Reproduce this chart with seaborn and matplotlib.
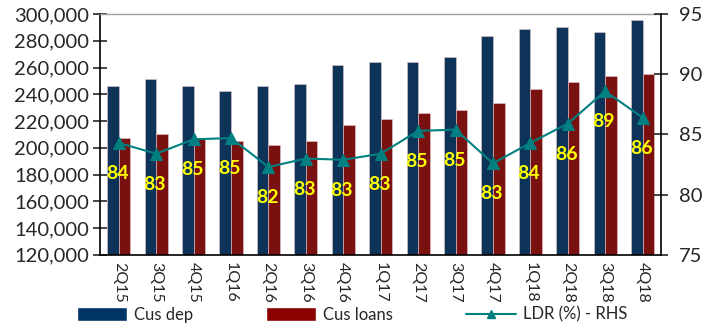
import matplotlib
matplotlib.use("Agg")
import matplotlib.pyplot as plt
import seaborn as sns
import pandas as pd
import numpy as np
from matplotlib.patches import Patch
from matplotlib.lines import Line2D
from matplotlib.ticker import FuncFormatter, FixedLocator

# quarterly data
quarters = ['2Q15', '3Q15', '4Q15', '1Q16', '2Q16', '3Q16', '4Q16', '1Q17',
            '2Q17', '3Q17', '4Q17', '1Q18', '2Q18', '3Q18', '4Q18']
cus_dep = [246200, 251200, 246200, 242500, 246200, 247500, 261700, 264200,
           264200, 267900, 283600, 288600, 290000, 286300, 295300]
cus_loans = [207600, 210400, 207600, 205100, 202400, 205100, 216900, 221800,
             225800, 228300, 233500, 243800, 249000, 253900, 255400]
ldr = [84.3, 83.4, 84.6, 84.7, 82.3, 83.0, 82.9, 83.4,
       85.3, 85.4, 82.6, 84.3, 85.9, 88.6, 86.4]

dep_color = '#003366'
loan_color = '#8b0000'
ldr_color = '#008080'

sns.set_style("white")
plt.rcParams['font.family'] = ['Lato', 'DejaVu Sans']

df = pd.DataFrame({
    'Quarter': quarters * 2,
    'Value': cus_dep + cus_loans,
    'Series': ['Cus dep'] * len(quarters) + ['Cus loans'] * len(quarters),
})

fig = plt.figure(figsize=(7.05, 3.28), dpi=100)
ax = fig.add_axes([0.142, 0.223, 0.796, 0.734])

sns.barplot(data=df, x='Quarter', y='Value', hue='Series', ax=ax,
            palette={'Cus dep': dep_color, 'Cus loans': loan_color},
            width=0.62, edgecolor='#e8c8d0', linewidth=0.4, legend=False)

ax.set_ylim(120000, 300000)
ax.set_xlim(-0.5, len(quarters) - 0.5)
ax.set_yticks(range(120000, 300001, 20000))
ax.yaxis.set_major_formatter(FuncFormatter(lambda v, p: f'{int(v):,}'))
ax.set_xlabel('')
ax.set_ylabel('')

# category labels centred, tick marks between categories
ax.set_xticks(range(len(quarters)))
ax.set_xticklabels(quarters, rotation=270, fontsize=11.5)
ax.tick_params(axis='x', which='major', length=0, pad=5)
ax.xaxis.set_minor_locator(FixedLocator(np.arange(-0.5, len(quarters), 1.0)))
ax.tick_params(axis='x', which='minor', length=8, direction='inout', width=1.2)
ax.tick_params(axis='y', length=10, direction='inout', width=1.2, labelsize=14.5, pad=3)

for side in ['left', 'bottom']:
    ax.spines[side].set_color('black')
    ax.spines[side].set_linewidth(1.2)
ax.spines['top'].set_color('#a0a0a0')
ax.spines['top'].set_linewidth(1)
ax.spines['right'].set_visible(False)

ax2 = ax.twinx()
x_pos = np.arange(len(quarters))
sns.lineplot(x=x_pos, y=ldr, ax=ax2, color=ldr_color, marker='^',
             markersize=8, markeredgecolor=ldr_color, linewidth=1.5)
ax2.set_ylim(75, 95)
ax2.set_yticks([75, 80, 85, 90, 95])
ax2.tick_params(axis='y', length=10, direction='inout', width=1.2, labelsize=14.5, pad=8)
ax2.spines['right'].set_color('black')
ax2.spines['right'].set_linewidth(1.2)
for side in ['left', 'top', 'bottom']:
    ax2.spines[side].set_visible(False)

for x, v in zip(x_pos, ldr):
    ax2.annotate(f'{v:.0f}', (x, v), xytext=(-1, -22), textcoords='offset points',
                 ha='center', va='center', color='#ffff00', fontsize=14,
                 fontweight='bold')

handles = [Patch(facecolor=dep_color), Patch(facecolor=loan_color),
           Line2D([0], [0], color=ldr_color, marker='^', markersize=6)]
fig.legend(handles, ['Cus dep', 'Cus loans', 'LDR (%) - RHS'], ncol=3,
           loc='lower left', bbox_to_anchor=(0.088, -0.03), frameon=False,
           fontsize=12, handlelength=3.0, handleheight=0.9,
           columnspacing=4.4, handletextpad=0.4)

fig.savefig('out.png', dpi=100)
